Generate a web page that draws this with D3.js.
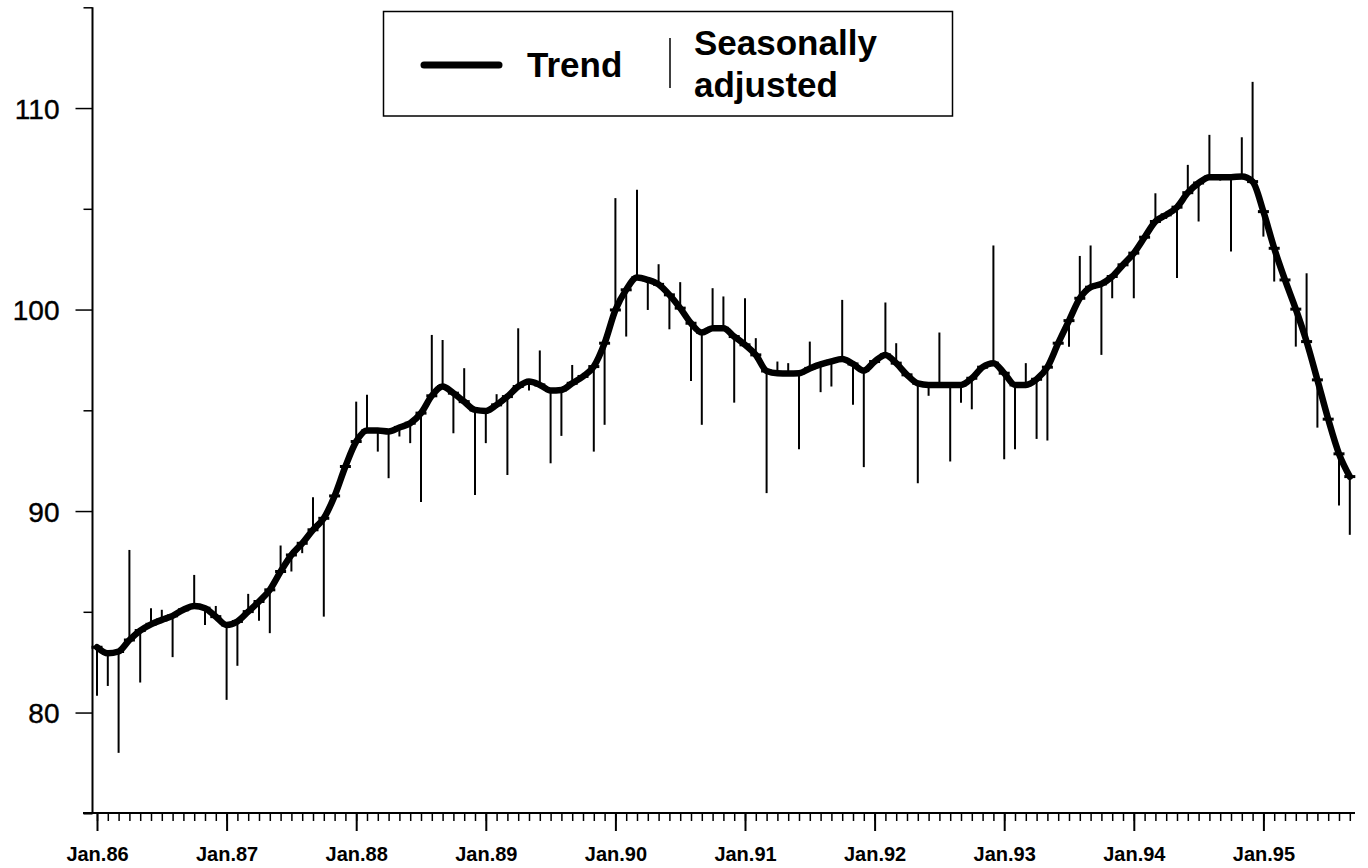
<!DOCTYPE html>
<html>
<head>
<meta charset="utf-8">
<script src="https://cdn.jsdelivr.net/npm/d3@7"></script>
<style>
  html, body { margin: 0; padding: 0; background: #fff; }
  svg { display: block; }
</style>
</head>
<body>
<svg id="chart" width="1368" height="868"></svg>
<script>
// ---- Data (monthly, Jan.86 .. Sep.95) ----
const yearLabels = ["Jan.86","Jan.87","Jan.88","Jan.89","Jan.90","Jan.91","Jan.92","Jan.93","Jan.94","Jan.95"];
const yTickValues = [80, 90, 100, 110];
const yMinorValues = [75, 85, 95, 105, 115];

const trend = [
  83.24, 82.94, 83.03, 83.60, 84.07, 84.38, 84.60, 84.80, 85.10, 85.29, 85.18, 84.76,
  84.35, 84.52, 85.01, 85.51, 86.09, 87.00, 87.82, 88.40, 89.07, 89.64, 90.75, 92.21,
  93.45, 94.00, 94.00, 93.95, 94.15, 94.36, 94.86, 95.72, 96.18, 95.85, 95.43, 95.02,
  94.97, 95.27, 95.68, 96.18, 96.43, 96.26, 95.98, 96.01, 96.34, 96.68, 97.17, 98.33,
  99.98, 100.98, 101.59, 101.47, 101.25, 100.73, 100.07, 99.32, 98.86, 99.07, 99.07, 98.66,
  98.25, 97.75, 96.95, 96.84, 96.83, 96.84, 97.08, 97.28, 97.43, 97.54, 97.30, 96.97,
  97.42, 97.75, 97.34, 96.76, 96.34, 96.26, 96.26, 96.26, 96.26, 96.59, 97.14, 97.34,
  96.84, 96.26, 96.26, 96.54, 97.14, 98.33, 99.45, 100.56, 101.11, 101.27, 101.64, 102.22,
  102.80, 103.59, 104.37, 104.70, 105.08, 105.80, 106.28, 106.57, 106.57, 106.57, 106.60, 106.35,
  104.86, 103.04, 101.47, 100.02, 98.41, 96.51, 94.56, 92.84, 91.71
];

const seasonallyAdjusted = [
  80.83, 81.32, 78.00, 88.07, 81.49, 85.18, 85.10, 82.75, 85.00, 86.83, 84.35, 85.29,
  80.63, 82.32, 85.89, 84.55, 83.94, 88.29, 87.00, 87.91, 90.69, 84.76, 90.60, 92.30,
  95.43, 95.77, 92.95, 91.63, 93.70, 93.37, 90.45, 98.74, 98.49, 93.86, 97.09, 90.80,
  93.37, 95.80, 91.79, 99.07, 95.98, 97.97, 92.37, 93.73, 97.25, 96.60, 92.95, 94.28,
  105.53, 98.66, 105.94, 99.98, 102.25, 99.02, 101.36, 96.46, 94.28, 101.06, 100.65, 95.38,
  100.56, 98.58, 90.89, 97.42, 97.34, 93.07, 98.41, 95.90, 96.18, 100.48, 95.27, 92.18,
  97.30, 100.35, 98.33, 96.70, 91.38, 95.72, 98.86, 92.46, 95.38, 95.05, 97.10, 103.18,
  92.57, 93.07, 97.34, 93.58, 93.50, 98.20, 98.16, 102.66, 103.18, 97.75, 100.56, 102.10,
  100.56, 103.50, 105.77, 104.50, 101.56, 107.18, 104.37, 108.67, 106.40, 102.88, 108.55, 111.30,
  103.62, 101.39, 101.40, 98.16, 101.80, 94.14, 94.50, 90.27, 88.82
];

const months = d3.range(trend.length); // month index from Jan.86

// ---- Layout ----
const svg = d3.select("#chart");
const x = d3.scaleLinear().domain([0, 116]).range([97, 97 + 116 * 10.8]);
const y = d3.scaleLinear().domain([75, 115]).range([813.3, 7.3]);
const axisX0 = 92.5, axisY0 = 813;
const FONT = "'Liberation Sans', Arial, Helvetica, sans-serif";

// ---- Axes ----
svg.append("line").attr("x1", axisX0).attr("x2", axisX0).attr("y1", y(115)).attr("y2", axisY0)
  .attr("stroke", "#000").attr("stroke-width", 2);
svg.append("line").attr("x1", 83).attr("x2", 1355).attr("y1", axisY0).attr("y2", axisY0)
  .attr("stroke", "#000").attr("stroke-width", 2);

// y ticks (major, labelled)
const yAxisMajor = d3.axisLeft(y).tickValues(yTickValues).tickSize(17).tickPadding(16)
  .tickFormat(d3.format("d"));
const gy = svg.append("g").attr("transform", `translate(${axisX0},0)`).call(yAxisMajor);
gy.select(".domain").remove();
gy.selectAll(".tick line").attr("stroke", "#000").attr("stroke-width", 1.5);
gy.selectAll(".tick text").attr("font-family", FONT)
  .attr("font-size", 28).attr("fill", "#000").attr("dy", "0.36em")
  .attr("stroke", "#000").attr("stroke-width", 0.4);

// y minor ticks
const yAxisMinor = d3.axisLeft(y).tickValues(yMinorValues).tickSize(9).tickFormat("");
const gym = svg.append("g").attr("transform", `translate(${axisX0},0)`).call(yAxisMinor);
gym.select(".domain").remove();
gym.selectAll(".tick line").attr("stroke", "#000").attr("stroke-width", 1.5);

// x minor ticks (monthly)
const xAxisMinor = d3.axisBottom(x).tickValues(months).tickSize(8).tickFormat("");
const gxm = svg.append("g").attr("transform", `translate(0,${axisY0})`).call(xAxisMinor);
gxm.select(".domain").remove();
gxm.selectAll(".tick line").attr("stroke", "#000").attr("stroke-width", 1.5);

// x major ticks (January) with labels
const janIdx = yearLabels.map((d, i) => i * 12);
const xAxisMajor = d3.axisBottom(x).tickValues(janIdx).tickSize(18).tickPadding(16)
  .tickFormat((d, i) => yearLabels[i]);
const gx = svg.append("g").attr("transform", `translate(0,${axisY0})`).call(xAxisMajor);
gx.select(".domain").remove();
gx.selectAll(".tick line").attr("stroke", "#000").attr("stroke-width", 2);
gx.selectAll(".tick text").attr("font-family", FONT)
  .attr("font-size", 20).attr("font-weight", "bold").attr("fill", "#000");

// ---- Seasonally adjusted: vertical lines from trend to SA value ----
svg.append("g").selectAll("line").data(months).join("line")
  .attr("x1", i => x(i)).attr("x2", i => x(i))
  .attr("y1", i => y(trend[i])).attr("y2", i => y(seasonallyAdjusted[i]))
  .attr("stroke", "#000").attr("stroke-width", 2);

// ---- Trend line ----
const line = d3.line().x(i => x(i)).y(i => y(trend[i])).curve(d3.curveMonotoneX);
svg.append("path").datum(months).attr("d", line)
  .attr("fill", "none").attr("stroke", "#000").attr("stroke-width", 6.5)
  .attr("stroke-linejoin", "round").attr("stroke-linecap", "round");

// small tick marks on the trend at every month
svg.append("g").selectAll("line").data(months).join("line")
  .attr("x1", i => x(i) - 5.5).attr("x2", i => x(i) + 5.5)
  .attr("y1", i => y(trend[i])).attr("y2", i => y(trend[i]))
  .attr("stroke", "#000").attr("stroke-width", 3);

// ---- Legend ----
const lg = svg.append("g");
lg.append("rect").attr("x", 383.5).attr("y", 11.5).attr("width", 569).attr("height", 104.5)
  .attr("fill", "#fff").attr("stroke", "#000").attr("stroke-width", 1.5);
lg.append("line").attr("x1", 424).attr("x2", 499).attr("y1", 65).attr("y2", 65)
  .attr("stroke", "#000").attr("stroke-width", 7).attr("stroke-linecap", "round");
lg.append("text").attr("x", 527).attr("y", 77).text("Trend")
  .attr("font-family", FONT).attr("font-size", 35).attr("font-weight", "bold");
lg.append("line").attr("x1", 670).attr("x2", 670).attr("y1", 38).attr("y2", 88)
  .attr("stroke", "#000").attr("stroke-width", 1.5);
const st = lg.append("text").attr("font-family", FONT).attr("font-size", 35).attr("font-weight", "bold");
st.append("tspan").attr("x", 694).attr("y", 55).text("Seasonally");
st.append("tspan").attr("x", 694).attr("y", 97).text("adjusted");
</script>
</body>
</html>
